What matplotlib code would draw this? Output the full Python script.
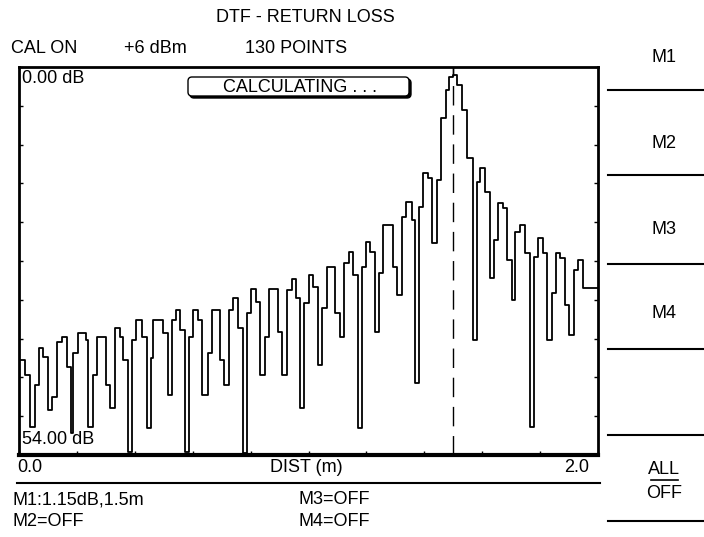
import matplotlib
matplotlib.use('Agg')
import matplotlib.pyplot as plt
import numpy as np
from matplotlib.patches import FancyBboxPatch
from matplotlib.lines import Line2D

plt.rcParams['font.family'] = ['Liberation Sans', 'DejaVu Sans']

# trace: start of each step (m) and its level (dB return loss)
dist = [0.000, 0.021, 0.038, 0.055, 0.069, 0.083, 0.100, 0.114, 0.131, 0.149,
        0.166, 0.180, 0.187, 0.204, 0.231, 0.238, 0.256, 0.269, 0.300, 0.314,
        0.332, 0.349, 0.359, 0.377, 0.390, 0.404, 0.425, 0.442, 0.456, 0.463,
        0.497, 0.515, 0.528, 0.542, 0.556, 0.573, 0.587, 0.601, 0.618, 0.632,
        0.653, 0.667, 0.694, 0.708, 0.725, 0.739, 0.756, 0.774, 0.788, 0.801,
        0.819, 0.832, 0.850, 0.864, 0.895, 0.908, 0.926, 0.943, 0.957, 0.971,
        0.984, 1.002, 1.016, 1.033, 1.047, 1.064, 1.092, 1.109, 1.123, 1.140,
        1.154, 1.171, 1.185, 1.199, 1.212, 1.230, 1.244, 1.257, 1.292, 1.306,
        1.323, 1.337, 1.358, 1.368, 1.382, 1.396, 1.413, 1.427, 1.444, 1.458,
        1.475, 1.485, 1.499, 1.513, 1.530, 1.547, 1.568, 1.582, 1.592, 1.610,
        1.627, 1.641, 1.654, 1.672, 1.686, 1.703, 1.713, 1.730, 1.748, 1.765,
        1.779, 1.793, 1.810, 1.824, 1.841, 1.855, 1.869, 1.886, 1.900, 1.917,
        1.931, 1.948]
rl = [40.8, 42.9, 50.1, 44.3, 39.1, 40.4, 47.7, 45.9, 38.3, 37.6,
      41.8, 50.9, 39.8, 37.0, 38.0, 50.1, 42.9, 37.6, 44.3, 47.5,
      36.3, 37.6, 40.8, 53.6, 38.0, 35.2, 37.6, 50.2, 40.5, 35.2,
      37.0, 45.6, 35.2, 33.8, 36.6, 53.6, 37.6, 33.8, 35.2, 45.6,
      39.8, 33.8, 40.8, 44.3, 33.8, 32.1, 36.3, 53.7, 34.2, 30.9,
      32.7, 42.9, 37.6, 30.9, 36.9, 42.9, 31.0, 29.5, 32.1, 47.5,
      32.8, 28.9, 30.6, 41.5, 33.5, 27.8, 34.2, 37.6, 27.3, 25.7,
      28.9, 50.2, 27.8, 24.4, 25.7, 36.9, 28.7, 22.0, 27.8, 31.7,
      20.9, 18.8, 21.3, 44.0, 19.5, 14.8, 15.4, 24.5, 15.7, 7.1,
      3.2, 1.4, 1.15, 2.5, 6.0, 12.7, 38.0, 16.0, 14.1, 17.4,
      29.4, 24.1, 18.9, 19.6, 26.9, 32.4, 23.0, 22.0, 25.9, 50.1,
      26.4, 23.8, 25.9, 38.0, 31.5, 25.9, 26.6, 33.1, 37.3, 28.3,
      26.9, 30.8]
dist_max = 2.0
rl_top, rl_bottom = 0.0, 54.0
m1_dist, m1_db = 1.5, 1.15

W, H = 704, 537
fig = plt.figure(figsize=(W / 100, H / 100), dpi=100, facecolor='white')
tr = fig.dpi_scale_trans


def put(x, y, s, ha='left', size=13):
    fig.text(x / 100, (H - y) / 100, s, transform=tr, ha=ha, va='center',
             fontsize=size, color='black')


def hline(x0, x1, y, lw=1.5):
    fig.add_artist(Line2D([x0 / 100, x1 / 100], [(H - y) / 100] * 2,
                          transform=tr, color='black', lw=lw))


ax = fig.add_axes([19 / W, (H - 455) / H, 579 / W, 388 / H])
ax.step(dist + [dist_max], rl + [rl[-1]], where='post', color='black', lw=1.3)
ax.plot([m1_dist, m1_dist], [rl_top, m1_db], color='black', lw=1.0)
ax.axvline(m1_dist, color='black', lw=1.0, dashes=(14, 7))
ax.set_xlim(0, dist_max)
ax.set_ylim(rl_bottom, rl_top)
ax.set_xticks(np.linspace(0, dist_max, 11))
ax.set_yticks(np.linspace(rl_top, rl_bottom, 11))
ax.tick_params(direction='in', length=3, width=1, right=True,
               labelleft=False, labelbottom=False)
for side in ['left', 'right', 'top']:
    ax.spines[side].set_linewidth(2)
ax.spines['bottom'].set_linewidth(3)

ax.text(0.005, 0.97, '0.00 dB', transform=ax.transAxes, ha='left', va='center', fontsize=13)
ax.text(0.005, 0.04, '54.00 dB', transform=ax.transAxes, ha='left', va='center', fontsize=13)

# CALCULATING box
shadow = FancyBboxPatch((190 / 100, (H - 98) / 100), 221 / 100, 19 / 100,
                        boxstyle='round,pad=0,rounding_size=0.04', transform=tr,
                        facecolor='black', edgecolor='black', lw=1)
box = FancyBboxPatch((188 / 100, (H - 96) / 100), 221 / 100, 19 / 100,
                     boxstyle='round,pad=0,rounding_size=0.04', transform=tr,
                     facecolor='white', edgecolor='black', lw=1)
fig.add_artist(shadow)
fig.add_artist(box)
put(300, 87, 'CALCULATING . . .', ha='center')

# header
put(305, 17, 'DTF - RETURN LOSS', ha='center')
put(11, 48, 'CAL ON')
put(124, 48, '+6 dBm')
put(245, 48, '130 POINTS')

# x axis labels
put(17, 467, '0.0')
put(306, 467, 'DIST (m)', ha='center')
put(577, 467, '2.0', ha='center')
hline(17, 600, 483)

# marker readouts
put(13, 500, 'M1:1.15dB,1.5m')
put(299, 500, 'M3=OFF')
put(13, 521, 'M2=OFF')
put(299, 521, 'M4=OFF')

# soft key menu
for label, y in [('M1', 58), ('M2', 143), ('M3', 230), ('M4', 313)]:
    put(664, y, label, ha='center')
for y in [90, 175, 264, 349, 435, 521]:
    hline(608, 704, y)
put(664, 470, 'ALL', ha='center')
hline(651, 678, 480, lw=1.2)
put(664, 493, 'OFF', ha='center')

fig.savefig('out.png', dpi=100, facecolor='white')
